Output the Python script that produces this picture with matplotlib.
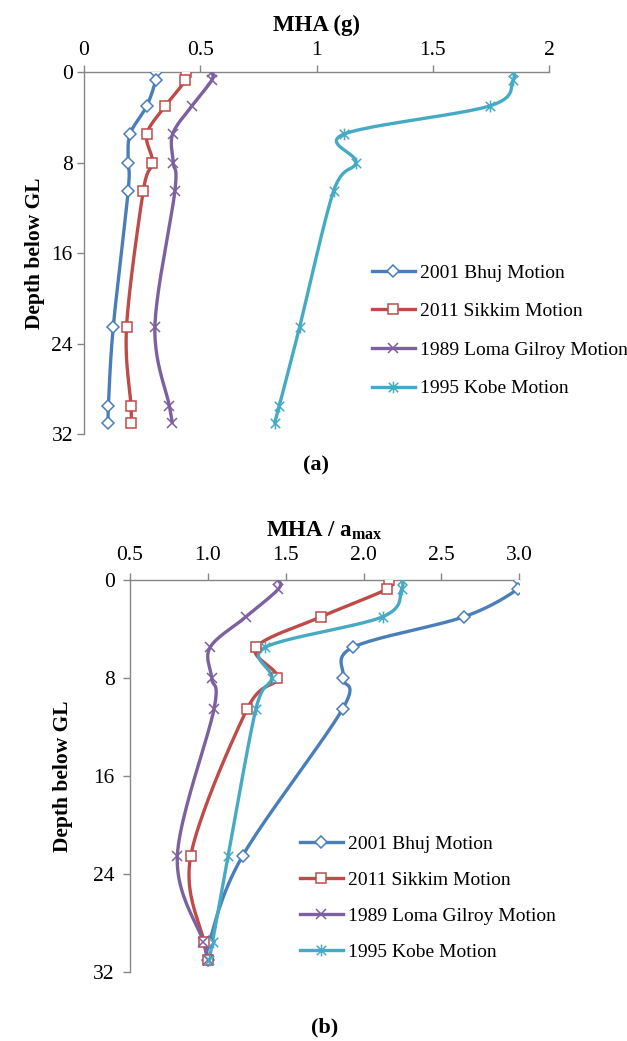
import numpy as np
import matplotlib
matplotlib.use('Agg')
import matplotlib.pyplot as plt
from matplotlib.path import Path
from matplotlib.lines import Line2D

# depth of recorded points below ground level (m)
depth = [0, 0.75, 3, 5.5, 8, 10.5, 22.5, 29.5, 31]

names = ['2001 Bhuj Motion', '2011 Sikkim Motion',
         '1989 Loma Gilroy Motion', '1995 Kobe Motion']

# maximum horizontal acceleration (g)
mha_bhuj = [0.308, 0.308, 0.27, 0.198, 0.19, 0.19, 0.126, 0.105, 0.105]
mha_sikkim = [0.438, 0.436, 0.35, 0.27, 0.294, 0.255, 0.183, 0.202, 0.202]
mha_loma = [0.549, 0.549, 0.464, 0.381, 0.384, 0.391, 0.305, 0.367, 0.38]
mha_kobe = [1.845, 1.845, 1.745, 1.117, 1.169, 1.074, 0.928, 0.84, 0.82]

# MHA normalised by input amax
amp_bhuj = [3.0, 2.99, 2.645, 1.93, 1.87, 1.866, 1.223, 1.01, 1.003]
amp_sikkim = [2.165, 2.148, 1.727, 1.309, 1.446, 1.253, 0.89, 0.975, 1.003]
amp_loma = [1.452, 1.452, 1.245, 1.014, 1.024, 1.04, 0.804, 0.971, 1.0]
amp_kobe = [2.244, 2.244, 2.122, 1.367, 1.41, 1.309, 1.131, 1.031, 1.007]

colors = ['#4A7EBB', '#BE4B48', '#7D60A0', '#46AAC5']

# asterisk marker: a cross with a vertical bar
star = Path([(-1, -1), (1, 1), (-1, 1), (1, -1), (0, -1.25), (0, 1.25)],
            [Path.MOVETO, Path.LINETO, Path.MOVETO, Path.LINETO,
             Path.MOVETO, Path.LINETO])
markers = [dict(marker='D', ms=6.2, mfc='white'),
           dict(marker='s', ms=7.5, mfc='white'),
           dict(marker='x', ms=7.5),
           dict(marker=star, ms=8.5)]

serif = 'Liberation Serif'
plt.rcParams['font.family'] = serif
plt.rcParams['mathtext.fontset'] = 'custom'
plt.rcParams['mathtext.rm'] = serif
plt.rcParams['mathtext.bf'] = serif + ':bold'


def smooth(ax, xs, ys, n=24):
    # Catmull-Rom curve through the points, built in display space
    pts = ax.transData.transform(np.column_stack([xs, ys]))
    p = np.vstack([pts[0], pts, pts[-1]])
    out = []
    t = np.linspace(0, 1, n, endpoint=False)[:, None]
    for i in range(1, len(p) - 2):
        p0, p1, p2, p3 = p[i - 1], p[i], p[i + 1], p[i + 2]
        seg = 0.5 * (2 * p1 + (p2 - p0) * t
                     + (2 * p0 - 5 * p1 + 4 * p2 - p3) * t ** 2
                     + (-p0 + 3 * p1 - 3 * p2 + p3) * t ** 3)
        out.append(seg)
    out.append(p[-2][None])
    xy = ax.transData.inverted().transform(np.vstack(out))
    return xy[:, 0], xy[:, 1]


def panel(fig, rect, series, xlim, xticks, xticklabels, xlabel, tag,
          tag_y, ylab_x, legend_xy, spacing, ypad, xpad):
    ax = fig.add_axes(rect)
    ax.set_xlim(*xlim)
    ax.set_ylim(32, 0)
    ax.xaxis.tick_top()
    ax.set_xticks(xticks)
    ax.set_xticklabels(xticklabels)
    ax.set_yticks([0, 8, 16, 24, 32])
    for s in ['right', 'bottom']:
        ax.spines[s].set_visible(False)
    for s in ['left', 'top']:
        ax.spines[s].set_color('#868686')
        ax.spines[s].set_linewidth(1.0)
    ax.tick_params(colors='#868686', labelcolor='black', labelsize=15.5,
                   length=5, width=1.0, direction='out')
    ax.tick_params(axis='y', pad=ypad)
    ax.tick_params(axis='x', pad=xpad)

    handles = []
    for vals, c, mk, name in zip(series, colors, markers, names):
        sx, sy = smooth(ax, vals, depth)
        ax.plot(sx, sy, color=c, lw=2.4, solid_capstyle='round', zorder=2)
        ax.plot(vals, depth, ls='none', color=c, mec=c, mew=1.1,
                zorder=3, **mk)
        handles.append(Line2D([0], [0], color=c, lw=2.4, mec=c, mew=1.1,
                              label=name, **mk))

    ax.set_xlabel(xlabel, fontsize=16.5, fontweight='bold', labelpad=7)
    ax.xaxis.set_label_position('top')

    fig.text(ylab_x, rect[1] + rect[3] / 2, 'Depth below GL', rotation=90,
             ha='center', va='center', fontsize=15.5, fontweight='bold')
    fig.text(rect[0] + rect[2] / 2, tag_y, tag, ha='center', va='center',
             fontsize=16, fontweight='bold')

    ax.legend(handles=handles, loc='upper left', bbox_to_anchor=legend_xy,
              bbox_transform=fig.transFigure, frameon=False, fontsize=14,
              handlelength=2.2, handletextpad=0.25, labelspacing=spacing,
              borderpad=0, borderaxespad=0)
    return ax


fig = plt.figure(figsize=(6.27, 10.41), dpi=100)

panel(fig, [84 / 627, 1 - 434 / 1041, 465 / 627, 362 / 1041],
      [mha_bhuj, mha_sikkim, mha_loma, mha_kobe],
      (0, 2), [0, 0.5, 1, 1.5, 2], ['0', '0.5', '1', '1.5', '2'],
      'MHA (g)', '(a)', 1 - 465 / 1041, 35 / 627,
      (372 / 627, 1 - 264 / 1041), 1.08, 3, 4)

panel(fig, [130 / 627, 1 - 972.3 / 1041, 389.3 / 627, 392.3 / 1041],
      [amp_bhuj, amp_sikkim, amp_loma, amp_kobe],
      (0.5, 3.0), [0.5, 1.0, 1.5, 2.0, 2.5, 3.0],
      ['0.5', '1.0', '1.5', '2.0', '2.5', '3.0'],
      r'MHA / a$_{\mathbf{max}}$', '(b)', 1 - 1027 / 1041, 63 / 627,
      (300 / 627, 1 - 835 / 1041), 0.95, 6, 6)

fig.savefig('out.png', dpi=100)
